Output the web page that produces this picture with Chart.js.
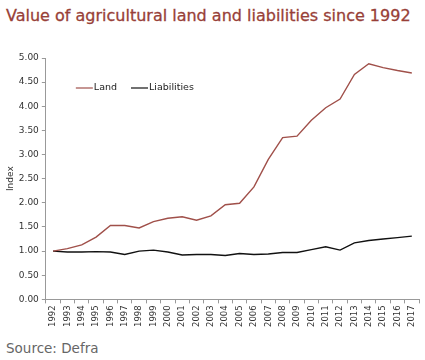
<!DOCTYPE html>
<html><head><meta charset="utf-8">
<script src="https://cdn.jsdelivr.net/npm/chart.js@4/dist/chart.umd.min.js"></script>
<style>
html,body{margin:0;padding:0;background:#fff;}
#wrap{position:relative;width:425px;height:360px;overflow:hidden;}
#title{position:absolute;left:6px;top:6px;font-family:"DejaVu Sans",sans-serif;font-size:16px;color:#983f38;white-space:nowrap;-webkit-text-stroke:0.3px #983f38;}
#source{position:absolute;left:6px;top:340px;font-family:"DejaVu Sans",sans-serif;font-size:13.5px;color:#666;}
#cwrap{position:absolute;left:0;top:40px;width:425px;height:289px;}
</style></head><body>
<div id="wrap">
<div id="title">Value of agricultural land and liabilities since 1992</div>
<div id="cwrap"><canvas id="c"></canvas></div>
<div id="source">Source: Defra</div>
</div>
<script>
const categories = ["1992","1993","1994","1995","1996","1997","1998","1999","2000","2001","2002","2003","2004","2005","2006","2007","2008","2009","2010","2011","2012","2013","2014","2015","2016","2017"];
const land = [1.00,1.05,1.13,1.29,1.53,1.53,1.48,1.61,1.68,1.71,1.64,1.73,1.96,1.99,2.33,2.90,3.35,3.38,3.71,3.97,4.15,4.66,4.88,4.80,4.74,4.69];
const liabilities = [1.00,0.98,0.98,0.99,0.98,0.93,1.00,1.02,0.98,0.92,0.93,0.93,0.91,0.95,0.93,0.94,0.97,0.97,1.03,1.09,1.02,1.17,1.22,1.25,1.28,1.31];
const yTicks = [0,0.5,1,1.5,2,2.5,3,3.5,4,4.5,5];
const seriesNames = ["Land","Liabilities"];
const colors = ["#a0504a","#111111"];

const legendPlugin = {
  id:'inlineLegend',
  afterDraw(chart){
    const ctx = chart.ctx;
    const a = chart.chartArea;
    ctx.save();
    ctx.font = '9.5px "DejaVu Sans", sans-serif';
    ctx.textBaseline = 'middle';
    let x = a.left + 30, y = a.top + 30;
    seriesNames.forEach((n,i)=>{
      ctx.strokeStyle = colors[i]; ctx.lineWidth = 1.2;
      ctx.beginPath(); ctx.moveTo(x,y); ctx.lineTo(x+17,y); ctx.stroke();
      ctx.fillStyle = '#222';
      ctx.fillText(n, x+18, y);
      x += 18 + ctx.measureText(n).width + 14;
    });
    ctx.restore();
  }
};

new Chart(document.getElementById('c'), {
  type:'line',
  data:{labels:categories, datasets:[
    {label:seriesNames[0], data:land, borderColor:colors[0], borderWidth:1.4, pointRadius:0, tension:0, fill:false},
    {label:seriesNames[1], data:liabilities, borderColor:colors[1], borderWidth:1.4, pointRadius:0, tension:0, fill:false}
  ]},
  options:{
    responsive:true, maintainAspectRatio:false, animation:false,
    layout:{padding:{left:5,right:6,top:18,bottom:0}},
    plugins:{legend:{display:false}, tooltip:{enabled:false}},
    scales:{
      x:{offset:true,
        grid:{drawOnChartArea:false, offset:true, tickLength:4, color:'#999'},
        border:{color:'#999'},
        ticks:{autoSkip:false, maxRotation:90, minRotation:90, color:'#333', font:{family:'"DejaVu Sans", sans-serif', size:8.5}, padding:2}
      },
      y:{min:0,max:5,
        afterBuildTicks(s){ s.ticks = yTicks.map(v=>({value:v})); },
        grid:{drawOnChartArea:false, tickLength:4, color:'#999'},
        border:{color:'#999'},
        title:{display:true,text:'Index',color:'#333',font:{family:'"DejaVu Sans", sans-serif',size:9},padding:{top:0,bottom:0}},
        ticks:{color:'#333', font:{family:'"DejaVu Sans", sans-serif', size:9}, padding:3, callback:v=>Number(v).toFixed(2)}
      }
    }
  },
  plugins:[legendPlugin]
});
</script>
</body></html>
